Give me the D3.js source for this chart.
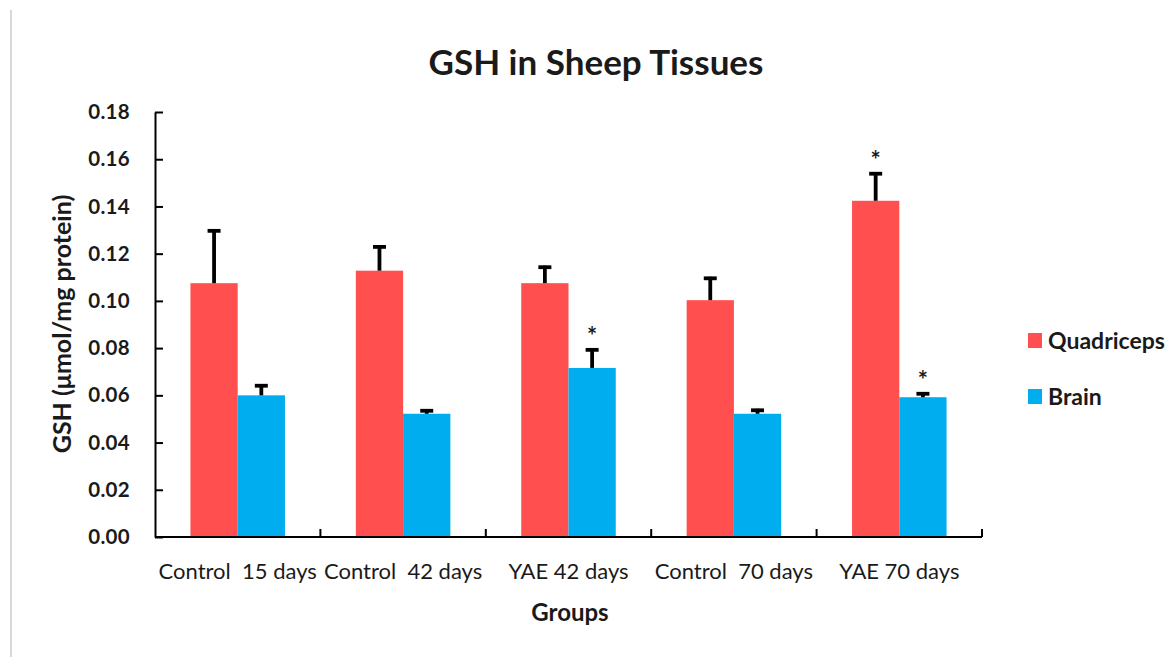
<!DOCTYPE html>
<html>
<head>
<meta charset="utf-8">
<script src="https://cdn.jsdelivr.net/npm/d3@7"></script>
<style>
  html, body { margin: 0; padding: 0; background: #fff; }
  svg { display: block; }
  text { font-family: Lato, "Open Sans", sans-serif; fill: #1a1a1a; }
</style>
</head>
<body>
<svg id="chart" width="1165" height="657"></svg>
<script>
const categories = ["Control  15 days", "Control  42 days", "YAE 42 days", "Control  70 days", "YAE 70 days"];
const seriesNames = ["Quadriceps", "Brain"];
const quadriceps = [0.1075, 0.1128, 0.1075, 0.1003, 0.1424];
const brain = [0.0600, 0.0522, 0.0716, 0.0522, 0.0592];
const quadricepsErr = [0.0228, 0.0107, 0.0074, 0.0099, 0.0121];
const brainErr = [0.0047, 0.0019, 0.0083, 0.0021, 0.0021];
const quadricepsStar = [false, false, false, false, true];
const brainStar = [false, false, true, false, true];
const yTicks = [0, 0.02, 0.04, 0.06, 0.08, 0.10, 0.12, 0.14, 0.16, 0.18];
const colors = ["#FF504F", "#00AEEF"];

const svg = d3.select("#chart");

// left frame line
svg.append("line").attr("x1", 11).attr("x2", 11).attr("y1", 10).attr("y2", 657)
  .attr("stroke", "#d8d8d8").attr("stroke-width", 2);

const plot = { left: 155, right: 982, top: 112, bottom: 537 };

const x0 = d3.scaleBand().domain(categories).range([plot.left, plot.right]).paddingInner(0).paddingOuter(0);
const x1 = d3.scaleBand().domain(seriesNames).range([0, x0.bandwidth()]).paddingInner(0).paddingOuter(0.75);
const y = d3.scaleLinear().domain([0, 0.18]).range([plot.bottom, plot.top]);

const data = categories.map((c, i) => ({
  cat: c,
  vals: [
    { s: seriesNames[0], v: quadriceps[i], e: quadricepsErr[i], star: quadricepsStar[i], col: colors[0] },
    { s: seriesNames[1], v: brain[i], e: brainErr[i], star: brainStar[i], col: colors[1] }
  ]
}));

const g = svg.append("g");
const groups = g.selectAll("g.grp").data(data).join("g")
  .attr("transform", d => `translate(${x0(d.cat)},0)`);

groups.selectAll("rect").data(d => d.vals).join("rect")
  .attr("x", d => x1(d.s))
  .attr("width", x1.bandwidth())
  .attr("y", d => y(d.v))
  .attr("height", d => y(0) - y(d.v))
  .attr("fill", d => d.col);

// error bars
groups.selectAll("line.stem").data(d => d.vals).join("line")
  .attr("class", "stem")
  .attr("x1", d => x1(d.s) + x1.bandwidth() / 2)
  .attr("x2", d => x1(d.s) + x1.bandwidth() / 2)
  .attr("y1", d => y(d.v))
  .attr("y2", d => y(d.v + d.e))
  .attr("stroke", "#000").attr("stroke-width", 3.8);
groups.selectAll("line.cap").data(d => d.vals).join("line")
  .attr("class", "cap")
  .attr("x1", d => x1(d.s) + x1.bandwidth() / 2 - 6.5)
  .attr("x2", d => x1(d.s) + x1.bandwidth() / 2 + 6.5)
  .attr("y1", d => y(d.v + d.e) + 1.5)
  .attr("y2", d => y(d.v + d.e) + 1.5)
  .attr("stroke", "#000").attr("stroke-width", 3.8);

// stars
groups.selectAll("text.star").data(d => d.vals.filter(v => v.star)).join("text")
  .attr("class", "star")
  .attr("x", d => x1(d.s) + x1.bandwidth() / 2)
  .attr("y", d => y(d.v + d.e) - 3)
  .attr("text-anchor", "middle")
  .attr("font-size", 24)
  .attr("font-weight", "bold")
  .attr("fill", "#333")
  .text("*");

// y axis
const yAxis = d3.axisLeft(y).tickValues(yTicks).tickFormat(d3.format(".2f")).tickSizeInner(-8).tickSizeOuter(0).tickPadding(25);
const yg = svg.append("g").attr("transform", `translate(${plot.left},0)`).call(yAxis);
yg.select(".domain").attr("stroke", "#000").attr("stroke-width", 2);
yg.selectAll(".tick line").attr("stroke", "#000").attr("stroke-width", 2);
yg.selectAll(".tick text").attr("font-size", 20.5).attr("font-weight", "bold").attr("fill", "#222")
  .attr("font-family", "Lato, sans-serif").attr("letter-spacing", 0.3);

// x axis
const xg = svg.append("g").attr("transform", `translate(0,${plot.bottom})`)
  .call(d3.axisBottom(x0).tickSize(0).tickPadding(0));
xg.select(".domain").attr("stroke", "#000").attr("stroke-width", 2)
  .attr("d", `M${plot.left},0H${plot.right}`);
xg.selectAll(".tick text").attr("font-size", 22).attr("fill", "#1a1a1a").attr("dy", 0).attr("y", 42)
  .attr("font-family", "Lato, sans-serif").style("white-space", "pre").attr("xml:space", "preserve");
// category boundary ticks (inward)
const bounds = categories.map(c => x0(c) + x0.bandwidth());
xg.selectAll("line.btick").data(bounds).join("line")
  .attr("class", "btick")
  .attr("x1", d => d).attr("x2", d => d).attr("y1", 0).attr("y2", -8)
  .attr("stroke", "#000").attr("stroke-width", 2);

// titles
svg.append("text").attr("x", 596).attr("y", 75).attr("text-anchor", "middle")
  .attr("font-size", 35).attr("font-weight", "bold").attr("fill", "#111")
  .text("GSH in Sheep Tissues");
svg.append("text").attr("x", 570).attr("y", 621).attr("text-anchor", "middle")
  .attr("font-size", 24).attr("font-weight", "bold").attr("fill", "#222")
  .text("Groups");
svg.append("text").attr("transform", "translate(71,324) rotate(-90)").attr("text-anchor", "middle")
  .attr("font-size", 25).attr("font-weight", "bold").attr("fill", "#222")
  .text("GSH (μmol/mg protein)");

// legend
const legend = svg.append("g").attr("transform", "translate(1028,333)");
const li = legend.selectAll("g").data(seriesNames).join("g")
  .attr("transform", (d, i) => `translate(0,${i * 56})`);
li.append("rect").attr("width", 14).attr("height", 15).attr("fill", (d, i) => colors[i]);
li.append("text").attr("x", 20).attr("y", 16).attr("font-size", 23).attr("font-weight", "bold")
  .attr("fill", "#1a1a1a").text(d => d);
</script>
</body>
</html>
